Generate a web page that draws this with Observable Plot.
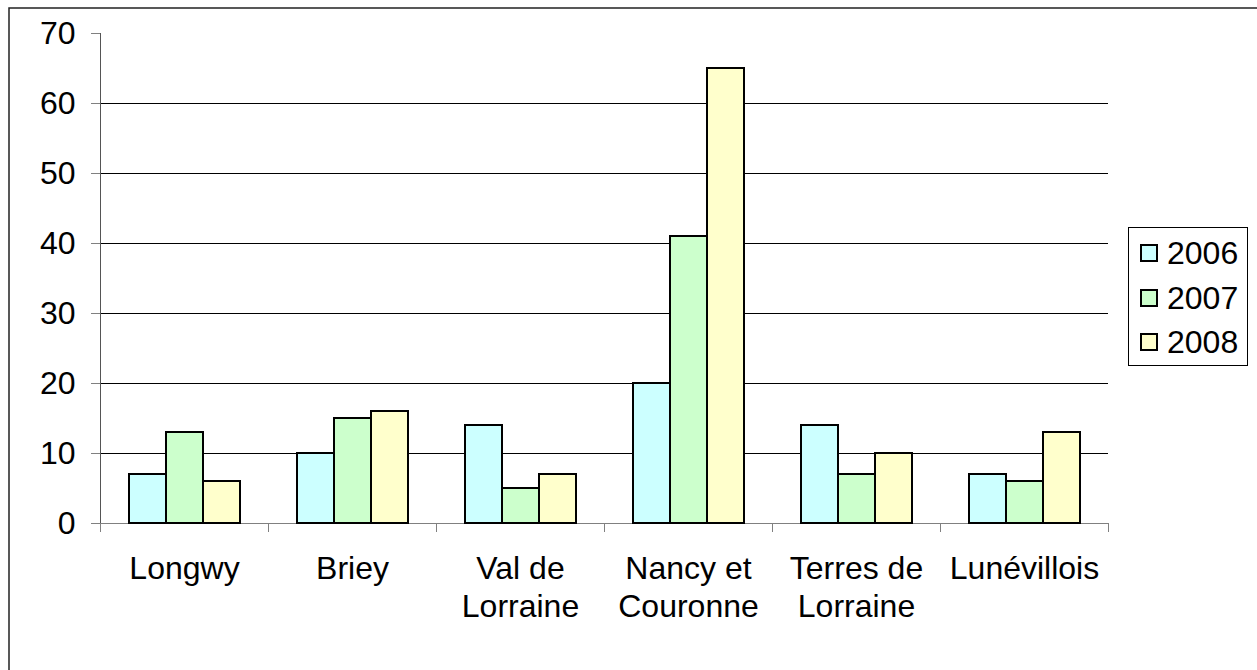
<!DOCTYPE html>
<html><head><meta charset="utf-8">
<script src="https://cdn.jsdelivr.net/npm/d3@7"></script>
<script src="https://cdn.jsdelivr.net/npm/@observablehq/plot@0.6"></script>
<style>
body{margin:0;background:#fff;font-family:"Liberation Sans",Arial,sans-serif;}
#wrap{position:relative;width:1257px;height:670px;overflow:hidden;background:#fff;}
#wrap svg{display:block;}
.legend{position:absolute;left:1128px;top:227px;width:120px;height:139px;border:1px solid #000;box-sizing:border-box;background:#fff;}
.item{position:absolute;left:0;height:0;}
.sw{position:absolute;left:11px;top:-9px;width:18px;height:18px;border:2px solid #000;box-sizing:border-box;}
.lt{position:absolute;left:38px;top:-19px;font-size:32px;line-height:38px;color:#000;white-space:nowrap;}
</style></head><body><div id="wrap"></div>
<script>
const regions = ["Longwy","Briey","Val de Lorraine","Nancy et Couronne","Terres de Lorraine","Lunévillois"];
const regionLabels = ["Longwy","Briey","Val de\nLorraine","Nancy et\nCouronne","Terres de\nLorraine","Lunévillois"];
const years = ["2006","2007","2008"];
const values2006 = [7,10,14,20,14,7];
const values2007 = [13,15,5,41,7,6];
const values2008 = [6,16,7,65,10,13];
const yTicks = [0,10,20,30,40,50,60,70];
const colors = ["#CCFFFF","#CCFFCC","#FFFFCC"];

const series = [values2006, values2007, values2008];
const data = [];
regions.forEach((r,i)=> years.forEach((yr,j)=> data.push({region:r, year:yr, value:series[j][i]})));

const chart = Plot.plot({
  width:1257, height:670,
  marginLeft:98, marginRight:148, marginTop:33, marginBottom:147,
  style:{fontFamily:"'Liberation Sans', Arial, sans-serif", fontSize:"32px", background:"white", color:"black"},
  fx:{domain:regions, padding:0, label:null},
  x:{domain:years, paddingInner:0, paddingOuter:0.75, axis:null},
  y:{domain:[0,70], label:null},
  color:{domain:years, range:colors},
  marks:[
    Plot.ruleY(yTicks.filter(d=>d>0 && d<70), {stroke:"black", strokeWidth:1, shapeRendering:"crispEdges"}),
    Plot.ruleY([0], {stroke:"#808080", shapeRendering:"crispEdges"}),
    Plot.barY(data, {fx:"region", x:"year", y:"value", fill:"year", stroke:"black", strokeWidth:2}),
    Plot.axisY({ticks:yTicks, tickSize:9, tickPadding:16, stroke:"#808080", fill:"black", fontSize:32, label:null, tickFormat:d=>String(d)}),
    Plot.axisFx({anchor:"bottom", tickSize:0, tickPadding:28, fontSize:32, lineHeight:1.2, label:null, fill:"black", tickFormat:d=>regionLabels[regions.indexOf(d)]})
  ]
});

const wrap = document.getElementById("wrap");
wrap.appendChild(chart);

const svg = d3.select(chart);
const fx = chart.scale("fx"), y = chart.scale("y");
const y0 = y.apply(0), yTop = y.apply(70);
const left = fx.apply(regions[0]);
const edges = regions.map(r=>fx.apply(r)).concat([fx.apply(regions[regions.length-1]) + fx.bandwidth]);
const g = svg.append("g").attr("shape-rendering","crispEdges");
g.append("line").attr("x1",left).attr("x2",left).attr("y1",yTop).attr("y2",y0).attr("stroke","#555");
g.selectAll("line.bt").data(edges).join("line").attr("class","bt")
  .attr("x1",d=>d).attr("x2",d=>d).attr("y1",y0).attr("y2",y0+9).attr("stroke","#808080");
svg.append("rect").attr("x",9).attr("y",8).attr("width",1400).attr("height",900)
  .attr("fill","none").attr("stroke","#222").attr("stroke-width",1.5);

const legend = document.createElement("div");
legend.className = "legend";
const rowTops = [25,70,114];
years.forEach((yr,j)=>{
  const it = document.createElement("div");
  it.className = "item";
  it.style.top = rowTops[j]+"px";
  it.innerHTML = `<div class="sw" style="background:${colors[j]}"></div><div class="lt">${yr}</div>`;
  legend.appendChild(it);
});
wrap.appendChild(legend);
</script></body></html>
